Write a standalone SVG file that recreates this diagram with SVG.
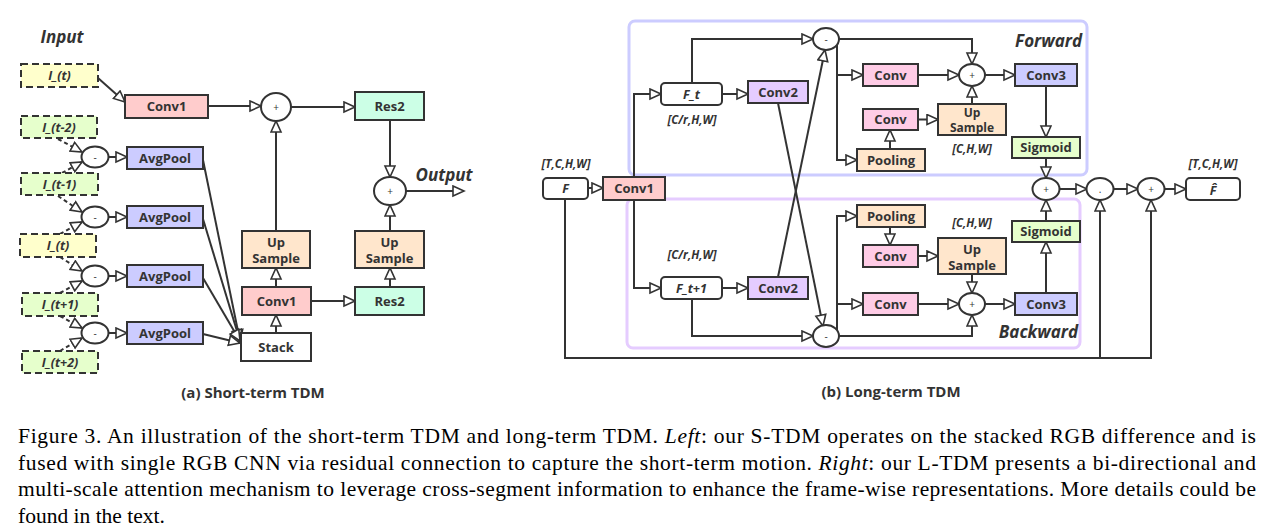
<svg xmlns="http://www.w3.org/2000/svg" width="1279" height="531" viewBox="0 0 1279 531">
<defs>
<marker id="a" markerUnits="userSpaceOnUse" markerWidth="14" markerHeight="14" viewBox="0 0 14 14" refX="12" refY="6" orient="auto">
<path d="M1,1 L12,6 L1,11 Z" fill="#fff" stroke="#333" stroke-width="1.6"/>
</marker>
<style>
.bx{stroke:#333;stroke-width:2}
.dash{stroke:#333;stroke-width:2;stroke-dasharray:7 4}
.fr{fill:none;stroke-width:3}
.ci{fill:#fff;stroke:#333;stroke-width:2}
.ln{fill:none;stroke:#333;stroke-width:2;marker-end:url(#a)}
.ds{fill:none;stroke:#333;stroke-width:2;stroke-dasharray:4 3;marker-end:url(#a)}
.t{font-family:"Open Sans","Noto Sans",sans-serif;font-weight:bold;font-size:13px;fill:#333;text-anchor:middle}
.s{font-size:12.5px}
.u{font-size:12px}
.it{font-style:italic}
.lb{font-family:"Open Sans","Noto Sans",sans-serif;font-weight:bold;font-style:italic;font-size:11.5px;fill:#333;text-anchor:middle}
.big{font-family:"Open Sans","Noto Sans",sans-serif;font-weight:bold;font-style:italic;font-size:17px;fill:#333}
.op{font-family:"Open Sans","Noto Sans",sans-serif;font-size:10px;fill:#333;text-anchor:middle}
.sub{font-family:"Open Sans","Noto Sans",sans-serif;font-weight:bold;font-size:15px;fill:#333;text-anchor:middle}
.cap{font-family:"Liberation Serif","Times New Roman",serif;font-size:21.5px;fill:#000}
.yl{fill:#ffffcc}.gr{fill:#e6ffcc}.pk{fill:#ffcccc}.bl{fill:#ccccff}.or{fill:#ffe6cc}.mt{fill:#ccffe6}.pu{fill:#e5ccff}.mg{fill:#ffcce6}.wh{fill:#fff}
</style>
</defs>

<!-- frames -->
<rect id="forward-frame" x="629" y="21" width="458" height="154" rx="6" class="fr" stroke="#ccccff"/>
<rect id="backward-frame" x="627" y="199" width="453" height="149" rx="6" class="fr" stroke="#e5ccff"/>

<g id="connectors">
<!-- left -->
<path class="ln" d="M98,78 L125,102"/>
<path class="ds" d="M58,139 L82,152"/>
<path class="ds" d="M62,173 L82,162"/>
<path class="ds" d="M58,196 L82,212"/>
<path class="ds" d="M60,234 L82,222"/>
<path class="ds" d="M60,257 L82,271"/>
<path class="ds" d="M60,293 L82,281"/>
<path class="ds" d="M60,316 L82,328"/>
<path class="ds" d="M60,351 L82,338"/>
<path class="ln" d="M109,157 H127"/>
<path class="ln" d="M109,217 H127"/>
<path class="ln" d="M109,276 H127"/>
<path class="ln" d="M109,333 H127"/>
<path class="ln" d="M203,160 L240,341"/>
<path class="ln" d="M203,219 L240,341"/>
<path class="ln" d="M203,278 L240,341"/>
<path class="ln" d="M203,334 L240,343"/>
<path class="ln" d="M208,106 H261"/>
<path class="ln" d="M276,333 V315"/>
<path class="ln" d="M276,287 V268"/>
<path class="ln" d="M276,231 V121"/>
<path class="ln" d="M291,107 H355"/>
<path class="ln" d="M390,120 V177"/>
<path class="ln" d="M311,301 H355"/>
<path class="ln" d="M390,287 V268"/>
<path class="ln" d="M390,231 V205"/>
<path class="ln" d="M406,191 H464"/>
<!-- right -->
<path class="ln" d="M588,188 H603"/>
<path class="ln" d="M634,177 V94 H661"/>
<path class="ln" d="M634,200 V288 H661"/>
<path class="ln" d="M722,94 H748"/>
<path class="ln" d="M722,288 H748"/>
<path class="ln" d="M692,83 V39 H813"/>
<path class="ln" d="M692,299 V336 H813"/>
<path class="ln" d="M778,103 L823,326"/>
<path class="ln" d="M778,277 L825,50"/>
<path class="ln" d="M839,39 H972 V64"/>
<path class="ln" d="M837,45 V160 H857"/>
<path class="ln" d="M837,75 H863"/>
<path class="ln" d="M918,75 H959"/>
<path class="ln" d="M890,149 V130"/>
<path class="ln" d="M918,119.5 H938"/>
<path class="ln" d="M972,104 V86"/>
<path class="ln" d="M985,75 H1015"/>
<path class="ln" d="M1046,86 V137"/>
<path class="ln" d="M1046,158 V178"/>
<path class="ln" d="M837,330 V216 H857"/>
<path class="ln" d="M837,304 H863"/>
<path class="ln" d="M890,227 V245"/>
<path class="ln" d="M918,256 H938"/>
<path class="ln" d="M972,274 V293"/>
<path class="ln" d="M918,304 H959"/>
<path class="ln" d="M839,336 H972 V315"/>
<path class="ln" d="M985,304 H1015"/>
<path class="ln" d="M1046,293 V242"/>
<path class="ln" d="M1046,221 V200"/>
<path class="ln" d="M1059.5,189 H1087"/>
<path class="ln" d="M1113.5,189 H1138"/>
<path class="ln" d="M1164.5,189 H1186"/>
<path class="ln" d="M565,199 V358 H1151 V200"/>
<path class="ln" d="M1100,358 V200"/>
</g>

<!-- left panel -->
<text class="big" x="62" y="43" text-anchor="middle">Input</text>
<g id="it0"><rect x="21" y="64" width="77" height="23" class="dash yl"/><text class="t s it" x="59.5" y="80">I_(t)</text></g>
<g id="itm2"><rect x="21" y="116" width="76" height="22" class="dash gr"/><text class="t s it" x="59" y="131.5">I_(t-2)</text></g>
<g id="itm1"><rect x="21" y="173" width="77" height="22" class="dash gr"/><text class="t s it" x="59.5" y="188.5">I_(t-1)</text></g>
<g id="it1"><rect x="20" y="234" width="76" height="23" class="dash yl"/><text class="t s it" x="58" y="250">I_(t)</text></g>
<g id="itp1"><rect x="22" y="293" width="76" height="23" class="dash gr"/><text class="t s it" x="60" y="309">I_(t+1)</text></g>
<g id="itp2"><rect x="22" y="351" width="76" height="22" class="dash gr"/><text class="t s it" x="60" y="366.5">I_(t+2)</text></g>

<g id="m1"><ellipse cx="95" cy="157" rx="13.5" ry="10.5" class="ci"/><text class="op" x="95" y="161">-</text></g>
<g id="m2"><ellipse cx="95" cy="217" rx="13.5" ry="10.5" class="ci"/><text class="op" x="95" y="221">-</text></g>
<g id="m3"><ellipse cx="95" cy="276" rx="13.5" ry="10.5" class="ci"/><text class="op" x="95" y="280">-</text></g>
<g id="m4"><ellipse cx="95" cy="333" rx="13.5" ry="10.5" class="ci"/><text class="op" x="95" y="337">-</text></g>

<g id="ap1"><rect x="127" y="147" width="76" height="22" class="bx bl"/><text class="t" x="165" y="162.5">AvgPool</text></g>
<g id="ap2"><rect x="127" y="206" width="76" height="22" class="bx bl"/><text class="t" x="165" y="221.5">AvgPool</text></g>
<g id="ap3"><rect x="127" y="265" width="76" height="22" class="bx bl"/><text class="t" x="165" y="280.5">AvgPool</text></g>
<g id="ap4"><rect x="127" y="322" width="76" height="22" class="bx bl"/><text class="t" x="165" y="337.5">AvgPool</text></g>

<g id="conv1a"><rect x="125" y="95" width="83" height="23" class="bx pk"/><text class="t" x="166.5" y="111">Conv1</text></g>
<g id="plus1"><ellipse cx="276" cy="107" rx="15" ry="14" class="ci"/><text class="op" x="276" y="111">+</text></g>
<g id="res2a"><rect x="355" y="92" width="69" height="28" class="bx mt"/><text class="t" x="389.5" y="110.5">Res2</text></g>
<g id="plus2"><ellipse cx="390" cy="191" rx="16" ry="14" class="ci"/><text class="op" x="390" y="195">+</text></g>
<text class="big" x="444" y="181" text-anchor="middle">Output</text>
<g id="upa"><rect x="242" y="231" width="68" height="37" class="bx or"/><text class="t" x="276" y="247">Up</text><text class="t" x="276" y="263">Sample</text></g>
<g id="upb"><rect x="355" y="231" width="69" height="37" class="bx or"/><text class="t" x="389.5" y="247">Up</text><text class="t" x="389.5" y="263">Sample</text></g>
<g id="conv1b"><rect x="242" y="287" width="69" height="28" class="bx pk"/><text class="t" x="276.5" y="305.5">Conv1</text></g>
<g id="res2b"><rect x="355" y="287" width="69" height="28" class="bx mt"/><text class="t" x="389.5" y="305.5">Res2</text></g>
<g id="stack"><rect x="241" y="333" width="70" height="28" class="bx wh"/><text class="t" x="276" y="351.5">Stack</text></g>
<text class="sub" x="253" y="398">(a) Short-term TDM</text>

<!-- right panel -->
<g id="F"><rect x="543" y="178" width="45" height="21" rx="4" class="bx wh"/><text class="t s it" x="565.5" y="193">F</text></g>
<text class="lb" x="566" y="168">[T,C,H,W]</text>
<g id="conv1r"><rect x="603" y="177" width="62" height="23" class="bx pk"/><text class="t" x="634" y="193">Conv1</text></g>
<g id="Ft"><rect x="661" y="83" width="61" height="22" rx="4" class="bx wh"/><text class="t s it" x="691.5" y="98.5">F_t</text></g>
<text class="lb" x="692" y="124">[C/r,H,W]</text>
<g id="conv2u"><rect x="748" y="81" width="60" height="22" class="bx pu"/><text class="t" x="778" y="96.5">Conv2</text></g>
<g id="Ft1"><rect x="661" y="277" width="61" height="22" rx="4" class="bx wh"/><text class="t s it" x="691.5" y="292.5">F_t+1</text></g>
<text class="lb" x="692" y="259">[C/r,H,W]</text>
<g id="conv2l"><rect x="748" y="277" width="60" height="22" class="bx pu"/><text class="t" x="778" y="292.5">Conv2</text></g>
<g id="minu"><ellipse cx="826" cy="39" rx="13" ry="11" class="ci"/><text class="op" x="826" y="43">-</text></g>
<g id="minl"><ellipse cx="826" cy="336" rx="13" ry="11" class="ci"/><text class="op" x="826" y="340">-</text></g>

<g id="convu1"><rect x="863" y="64" width="55" height="22" class="bx mg"/><text class="t" x="890.5" y="79.5">Conv</text></g>
<g id="convu2"><rect x="863" y="109" width="55" height="21" class="bx mg"/><text class="t" x="890.5" y="124">Conv</text></g>
<g id="poolu"><rect x="857" y="149" width="68" height="22" class="bx or"/><text class="t" x="891" y="164.5">Pooling</text></g>
<g id="upu"><rect x="938" y="104" width="68" height="31" class="bx or"/><text class="t u" x="972" y="117">Up</text><text class="t u" x="972" y="131.5">Sample</text></g>
<text class="lb" x="972" y="153">[C,H,W]</text>
<g id="plusu"><ellipse cx="972" cy="75" rx="13" ry="11" class="ci"/><text class="op" x="972" y="79">+</text></g>
<g id="conv3u"><rect x="1015" y="64" width="62" height="22" class="bx bl"/><text class="t" x="1046" y="79.5">Conv3</text></g>
<g id="sigu"><rect x="1012" y="137" width="68" height="21" class="bx gr"/><text class="t" x="1046" y="152">Sigmoid</text></g>
<text class="big" x="1082" y="47" text-anchor="end">Forward</text>

<g id="pooll"><rect x="857" y="205" width="68" height="22" class="bx or"/><text class="t" x="891" y="220.5">Pooling</text></g>
<g id="convl1"><rect x="863" y="245" width="55" height="22" class="bx mg"/><text class="t" x="890.5" y="260.5">Conv</text></g>
<g id="upl"><rect x="938" y="238" width="68" height="36" class="bx or"/><text class="t" x="972" y="254">Up</text><text class="t" x="972" y="269.5">Sample</text></g>
<text class="lb" x="972" y="227">[C,H,W]</text>
<g id="convl2"><rect x="863" y="293" width="55" height="22" class="bx mg"/><text class="t" x="890.5" y="308.5">Conv</text></g>
<g id="plusl"><ellipse cx="972" cy="304" rx="13" ry="11" class="ci"/><text class="op" x="972" y="308">+</text></g>
<g id="conv3l"><rect x="1015" y="293" width="62" height="22" class="bx bl"/><text class="t" x="1046" y="308.5">Conv3</text></g>
<g id="sigl"><rect x="1012" y="221" width="68" height="21" class="bx gr"/><text class="t" x="1046" y="236">Sigmoid</text></g>
<text class="big" x="1078" y="338" text-anchor="end">Backward</text>

<g id="plusbig"><ellipse cx="1046" cy="189" rx="13.5" ry="11" class="ci"/><text class="op" x="1046" y="193">+</text></g>
<g id="dot"><ellipse cx="1100" cy="189" rx="13.5" ry="11" class="ci"/><text class="op" x="1100" y="193">.</text></g>
<g id="plus3"><ellipse cx="1151" cy="189" rx="13.5" ry="11" class="ci"/><text class="op" x="1151" y="193">+</text></g>
<g id="Fhat"><rect x="1186" y="178" width="54" height="22" rx="4" class="bx wh"/><text class="t s it" x="1213" y="195">F̂</text></g>
<text class="lb" x="1213" y="168">[T,C,H,W]</text>
<text class="sub" x="891" y="397">(b) Long-term TDM</text>

<!-- caption -->
<g id="caption" class="cap">
<text x="18" y="443" textLength="1238" lengthAdjust="spacing">Figure 3. An illustration of the short-term TDM and long-term TDM. <tspan font-style="italic">Left</tspan>: our S-TDM operates on the stacked RGB difference and is</text>
<text x="18" y="469.5" textLength="1238" lengthAdjust="spacing">fused with single RGB CNN via residual connection to capture the short-term motion. <tspan font-style="italic">Right</tspan>: our L-TDM presents a bi-directional and</text>
<text x="18" y="496" textLength="1238" lengthAdjust="spacing">multi-scale attention mechanism to leverage cross-segment information to enhance the frame-wise representations. More details could be</text>
<text x="18" y="522.5">found in the text.</text>
</g>
</svg>
